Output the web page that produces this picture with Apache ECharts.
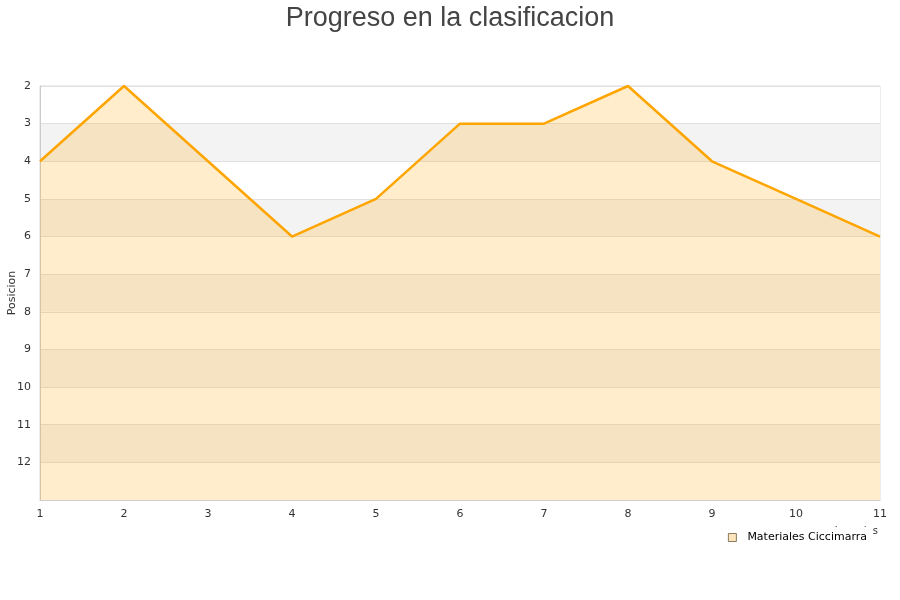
<!DOCTYPE html>
<html>
<head>
<meta charset="utf-8">
<script src="https://cdn.jsdelivr.net/npm/echarts@6/dist/echarts.min.js"></script>
<style>html,body{margin:0;padding:0;background:#fff}#c{width:900px;height:600px}</style>
</head>
<body>
<div id="c"></div>
<script>
var jornadas = ['1','2','3','4','5','6','7','8','9','10','11'];
var posiciones = [4, 2, 4, 6, 5, 3, 3, 2, 4, 5, 6];
var seriesName = 'Materiales Ciccimarra';
var chart = echarts.init(document.getElementById('c'));
chart.setOption({
  animation: false,
  title: {
    text: 'Progreso en la clasificacion',
    left: 'center', top: 0,
    textStyle: {fontFamily: 'Liberation Sans', fontSize: 27, fontWeight: 'normal', color: '#444'}
  },
  legend: {
    data: [seriesName],
    right: 28, top: 527,
    z: 10,
    backgroundColor: '#fff',
    padding: [5, 5, 3, 4],
    icon: 'rect', itemWidth: 8, itemHeight: 8, itemGap: 10,
    itemStyle: {color: '#fde4bb', borderColor: '#8a7a60', borderWidth: 1},
    textStyle: {fontFamily: 'DejaVu Sans', fontSize: 11, color: '#000', padding: [0, 0, 0, 6]}
  },
  grid: {left: 40, right: 20, top: 86, bottom: 100, containLabel: false, outerBoundsMode: 'none', show: true, borderColor: '#ddd', borderWidth: 1},
  xAxis: {
    type: 'category', data: jornadas, boundaryGap: false,
    name: 'Jornadas', nameLocation: 'end', nameGap: -2,
    nameTextStyle: {fontFamily: 'DejaVu Sans', fontSize: 10, color: '#333', align: 'right', verticalAlign: 'top', padding: [26, 0, 0, 0]},
    axisLine: {lineStyle: {color: '#ccc'}},
    axisTick: {show: false},
    axisLabel: {fontFamily: 'DejaVu Sans', fontSize: 11, color: '#333', margin: 9},
    splitLine: {show: false}
  },
  yAxis: {
    type: 'value', inverse: true, min: 2, max: 13, interval: 1,
    name: 'Posicion', nameLocation: 'middle', nameGap: 22, nameMoveOverlap: false,
    nameTextStyle: {fontFamily: 'DejaVu Sans', fontSize: 11, color: '#333'},
    axisLine: {show: true, lineStyle: {color: '#ccc'}},
    axisTick: {show: false},
    axisLabel: {fontFamily: 'DejaVu Sans', fontSize: 11, color: '#333', margin: 9, showMaxLabel: false},
    splitLine: {show: true, lineStyle: {color: '#e0e0e0'}},
    splitArea: {show: true, areaStyle: {color: ['#ffffff', '#f3f3f3']}}
  },
  series: [{
    name: seriesName, type: 'line', data: posiciones,
    showSymbol: false, symbol: 'none',
    lineStyle: {color: '#ffa500', width: 2.5},
    itemStyle: {color: '#ffa500'},
    areaStyle: {color: 'rgba(255,165,0,0.2)', opacity: 1, origin: 'end'}
  }]
});
</script>
</body>
</html>
